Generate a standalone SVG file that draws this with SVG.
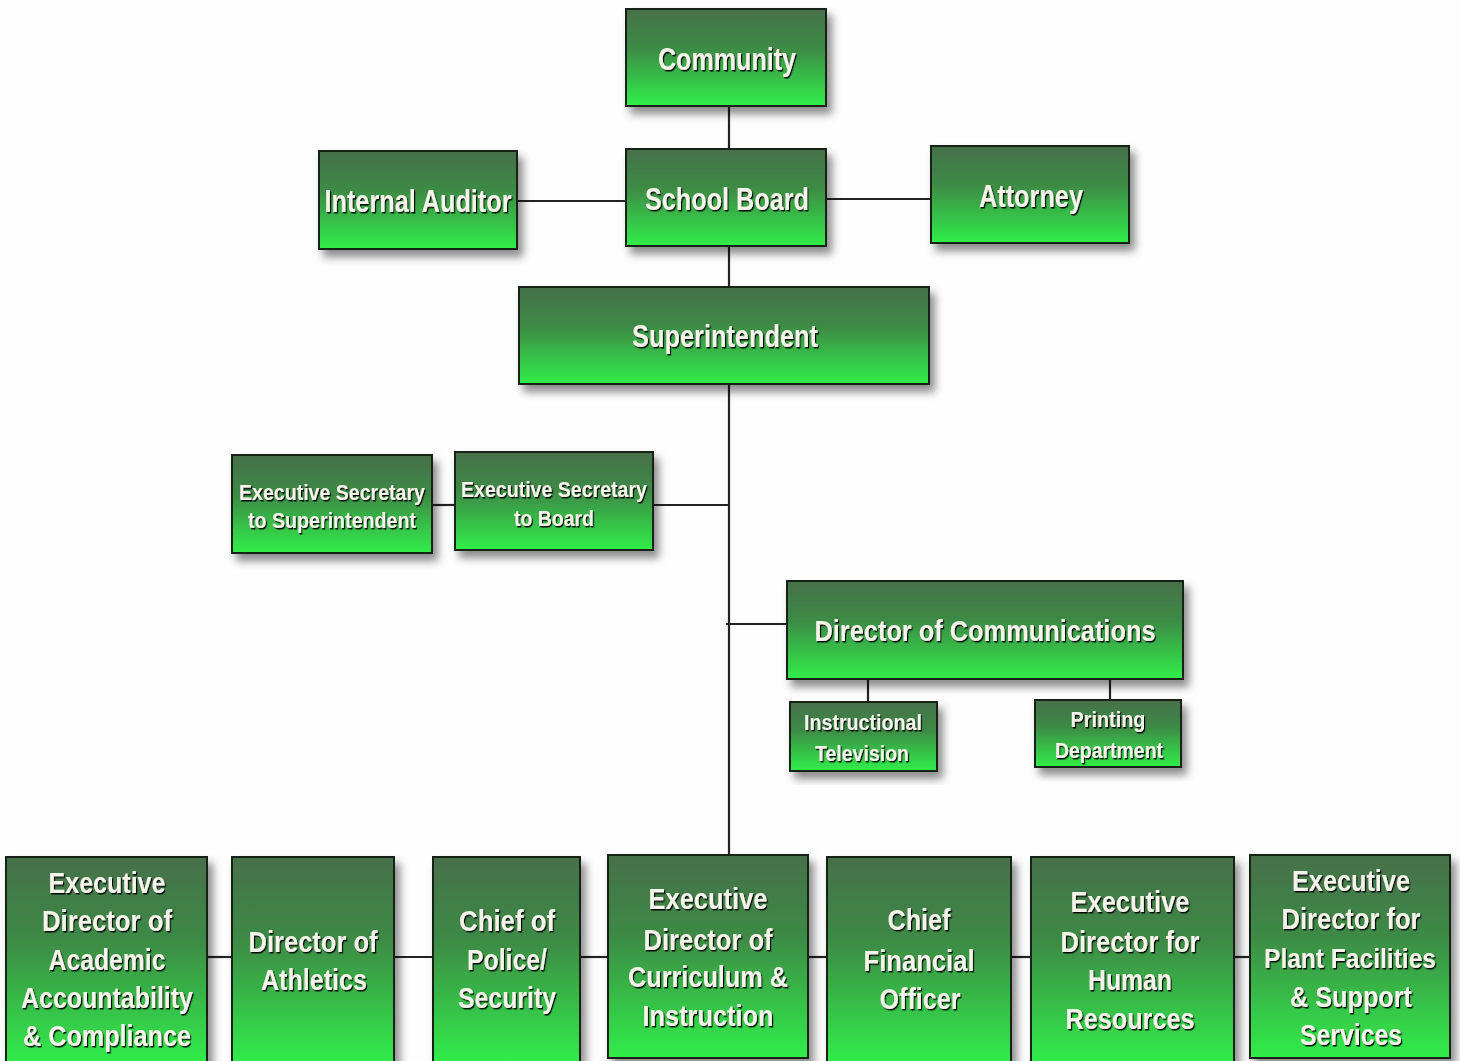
<svg xmlns="http://www.w3.org/2000/svg" width="1460" height="1061" viewBox="0 0 1460 1061">
<defs>
<linearGradient id="g" x1="0" y1="0" x2="0" y2="1">
<stop offset="0" stop-color="#47704a"/>
<stop offset="0.4" stop-color="#3d8a45"/>
<stop offset="1" stop-color="#31ee4a"/>
</linearGradient>
<filter id="sh" x="-10%" y="-10%" width="130%" height="130%">
<feDropShadow dx="5" dy="7" stdDeviation="4" flood-color="#000" flood-opacity="0.45"/>
</filter>
<filter id="ts" x="-5%" y="-20%" width="110%" height="150%">
<feDropShadow dx="1.2" dy="1.5" stdDeviation="0.4" flood-color="#000" flood-opacity="0.95"/>
</filter>
</defs>
<style>
.box{fill:url(#g);stroke:#132013;stroke-width:2;filter:url(#sh)}
.t{font-family:"Liberation Sans",Arial,sans-serif;font-weight:bold;fill:#f4f4ea;text-anchor:middle;filter:url(#ts)}
.l{font-size:32px}
.m{font-size:29px}
.s{font-size:22px}
.c{stroke:#222;stroke-width:2.2;fill:none}
</style>
<rect width="1460" height="1061" fill="#fdfdfd"/>
<g id="connectors">
<line class="c" x1="729" y1="106" x2="729" y2="149"/>
<line class="c" x1="729" y1="246" x2="729" y2="287"/>
<line class="c" x1="729" y1="384" x2="729" y2="855"/>
<line class="c" x1="517" y1="201" x2="626" y2="201" stroke-width="3" stroke="#444"/>
<line class="c" x1="826" y1="199" x2="931" y2="199" stroke-width="3" stroke="#444"/>
<line class="c" x1="432" y1="505" x2="455" y2="505"/>
<line class="c" x1="653" y1="505" x2="729" y2="505"/>
<line class="c" x1="726" y1="624" x2="787" y2="624"/>
<line class="c" x1="868" y1="679" x2="868" y2="702"/>
<line class="c" x1="1110" y1="679" x2="1110" y2="700"/>
<line class="c" x1="207" y1="957" x2="232" y2="957"/>
<line class="c" x1="394" y1="957" x2="433" y2="957"/>
<line class="c" x1="580" y1="957" x2="608" y2="957"/>
<line class="c" x1="808" y1="957" x2="827" y2="957"/>
<line class="c" x1="1011" y1="957" x2="1031" y2="957"/>
<line class="c" x1="1234" y1="957" x2="1250" y2="957"/>
</g>
<g id="community"><rect class="box" x="626" y="9" width="200" height="97"/>
<text class="t l" x="727" y="70" textLength="138" lengthAdjust="spacingAndGlyphs">Community</text></g>
<g id="school-board"><rect class="box" x="626" y="149" width="200" height="97"/>
<text class="t l" x="727" y="210" textLength="164" lengthAdjust="spacingAndGlyphs">School Board</text></g>
<g id="internal-auditor"><rect class="box" x="319" y="151" width="198" height="98"/>
<text class="t l" x="418" y="212" textLength="187" lengthAdjust="spacingAndGlyphs">Internal Auditor</text></g>
<g id="attorney"><rect class="box" x="931" y="146" width="198" height="97"/>
<text class="t l" x="1031" y="207" textLength="104" lengthAdjust="spacingAndGlyphs">Attorney</text></g>
<g id="superintendent"><rect class="box" x="519" y="287" width="410" height="97"/>
<text class="t l" x="725" y="347" textLength="186" lengthAdjust="spacingAndGlyphs">Superintendent</text></g>
<g id="exec-sec-super"><rect class="box" x="232" y="455" width="200" height="98"/>
<text class="t s" x="332" y="500" textLength="186" lengthAdjust="spacingAndGlyphs">Executive Secretary</text>
<text class="t s" x="332" y="528" textLength="168" lengthAdjust="spacingAndGlyphs">to Superintendent</text></g>
<g id="exec-sec-board"><rect class="box" x="455" y="452" width="198" height="98"/>
<text class="t s" x="554" y="497" textLength="186" lengthAdjust="spacingAndGlyphs">Executive Secretary</text>
<text class="t s" x="554" y="526" textLength="80" lengthAdjust="spacingAndGlyphs">to Board</text></g>
<g id="dir-communications"><rect class="box" x="787" y="581" width="396" height="98"/>
<text class="t m" x="985" y="641" textLength="341" lengthAdjust="spacingAndGlyphs">Director of Communications</text></g>
<g id="instructional-tv"><rect class="box" x="790" y="702" width="147" height="69"/>
<text class="t s" x="863" y="730" textLength="118" lengthAdjust="spacingAndGlyphs">Instructional</text>
<text class="t s" x="862" y="761" textLength="94" lengthAdjust="spacingAndGlyphs">Television</text></g>
<g id="printing"><rect class="box" x="1035" y="700" width="146" height="67"/>
<text class="t s" x="1108" y="727" textLength="75" lengthAdjust="spacingAndGlyphs">Printing</text>
<text class="t s" x="1109" y="758" textLength="108" lengthAdjust="spacingAndGlyphs">Department</text></g>
<g id="academic"><rect class="box" x="6" y="857" width="201" height="208"/>
<text class="t m" x="107" y="893" textLength="117" lengthAdjust="spacingAndGlyphs">Executive</text>
<text class="t m" x="107" y="931" textLength="130" lengthAdjust="spacingAndGlyphs">Director of</text>
<text class="t m" x="107" y="970" textLength="117" lengthAdjust="spacingAndGlyphs">Academic</text>
<text class="t m" x="107" y="1008" textLength="172" lengthAdjust="spacingAndGlyphs">Accountability</text>
<text class="t m" x="107" y="1046" textLength="168" lengthAdjust="spacingAndGlyphs">&amp; Compliance</text></g>
<g id="athletics"><rect class="box" x="232" y="857" width="162" height="208"/>
<text class="t m" x="313" y="952" textLength="129" lengthAdjust="spacingAndGlyphs">Director of</text>
<text class="t m" x="314" y="990" textLength="106" lengthAdjust="spacingAndGlyphs">Athletics</text></g>
<g id="police"><rect class="box" x="433" y="857" width="147" height="208"/>
<text class="t m" x="507" y="931" textLength="96" lengthAdjust="spacingAndGlyphs">Chief of</text>
<text class="t m" x="507" y="970" textLength="80" lengthAdjust="spacingAndGlyphs">Police/</text>
<text class="t m" x="507" y="1008" textLength="98" lengthAdjust="spacingAndGlyphs">Security</text></g>
<g id="curriculum"><rect class="box" x="608" y="855" width="200" height="203"/>
<text class="t m" x="708" y="909" textLength="119" lengthAdjust="spacingAndGlyphs">Executive</text>
<text class="t m" x="708" y="950" textLength="129" lengthAdjust="spacingAndGlyphs">Director of</text>
<text class="t m" x="708" y="987" textLength="160" lengthAdjust="spacingAndGlyphs">Curriculum &amp;</text>
<text class="t m" x="708" y="1026" textLength="131" lengthAdjust="spacingAndGlyphs">Instruction</text></g>
<g id="cfo"><rect class="box" x="827" y="857" width="184" height="208"/>
<text class="t m" x="919" y="930" textLength="63" lengthAdjust="spacingAndGlyphs">Chief</text>
<text class="t m" x="919" y="971" textLength="111" lengthAdjust="spacingAndGlyphs">Financial</text>
<text class="t m" x="920" y="1009" textLength="81" lengthAdjust="spacingAndGlyphs">Officer</text></g>
<g id="human-resources"><rect class="box" x="1031" y="857" width="203" height="208"/>
<text class="t m" x="1130" y="912" textLength="119" lengthAdjust="spacingAndGlyphs">Executive</text>
<text class="t m" x="1130" y="952" textLength="139" lengthAdjust="spacingAndGlyphs">Director for</text>
<text class="t m" x="1130" y="990" textLength="84" lengthAdjust="spacingAndGlyphs">Human</text>
<text class="t m" x="1130" y="1029" textLength="129" lengthAdjust="spacingAndGlyphs">Resources</text></g>
<g id="plant-facilities"><rect class="box" x="1250" y="855" width="200" height="203"/>
<text class="t m" x="1351" y="891" textLength="118" lengthAdjust="spacingAndGlyphs">Executive</text>
<text class="t m" x="1351" y="929" textLength="139" lengthAdjust="spacingAndGlyphs">Director for</text>
<text class="t" style="font-size:27px" x="1350" y="968" textLength="172" lengthAdjust="spacingAndGlyphs">Plant Facilities</text>
<text class="t m" x="1351" y="1007" textLength="122" lengthAdjust="spacingAndGlyphs">&amp; Support</text>
<text class="t m" x="1351" y="1045" textLength="102" lengthAdjust="spacingAndGlyphs">Services</text></g>
</svg>
